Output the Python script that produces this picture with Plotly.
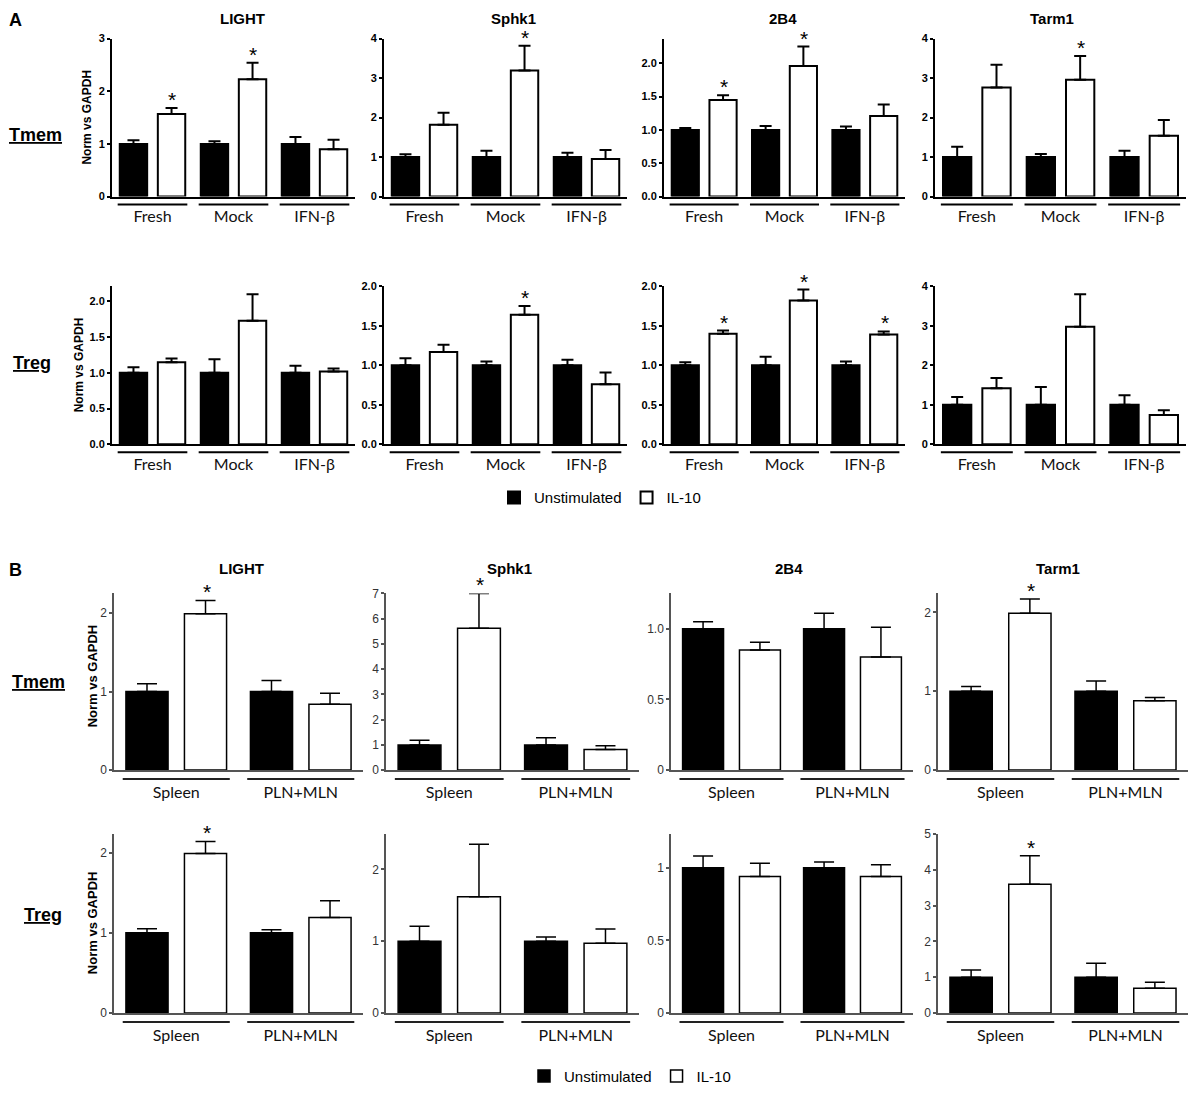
"""
IL-10 induced genes in Tmem / Treg, qPCR bar charts (panels A and B)
"""
import plotly.graph_objects as go

W, H = 1192, 1095

# ---------------- data ----------------
genes = ["LIGHT", "Sphk1", "2B4", "Tarm1"]
groups_a = ["Fresh", "Mock", "IFN-β"]
groups_b = ["Spleen", "PLN+MLN"]

# unstimulated samples are normalised to 1
ctrl_a = [1.0, 1.0, 1.0]
ctrl_b = [1.0, 1.0]

# panel A, Tmem  (one list per gene: LIGHT, Sphk1, 2B4, Tarm1)
a_tmem_ctrl_err = [[0.07, 0.05, 0.13], [0.07, 0.16, 0.11], [0.03, 0.06, 0.05], [0.26, 0.08, 0.16]]
a_tmem_il10 = [[1.57, 2.23, 0.90], [1.82, 3.19, 0.95], [1.45, 1.96, 1.21], [2.76, 2.96, 1.54]]
a_tmem_il10_err = [[0.11, 0.31, 0.18], [0.30, 0.63, 0.23], [0.07, 0.29, 0.17], [0.58, 0.60, 0.40]]
a_tmem_star = [[1, 1, 0], [0, 1, 0], [1, 1, 0], [0, 1, 0]]

# panel A, Treg
a_treg_ctrl_err = [[0.08, 0.19, 0.10], [0.09, 0.05, 0.07], [0.04, 0.11, 0.05], [0.20, 0.45, 0.24]]
a_treg_il10 = [[1.15, 1.73, 1.02], [1.17, 1.64, 0.76], [1.40, 1.82, 1.39], [1.42, 2.98, 0.74]]
a_treg_il10_err = [[0.05, 0.37, 0.04], [0.09, 0.11, 0.15], [0.04, 0.14, 0.04], [0.26, 0.82, 0.12]]
a_treg_star = [[0, 0, 0], [0, 1, 0], [1, 1, 1], [0, 0, 0]]

# panel B, Tmem
b_tmem_ctrl_err = [[0.10, 0.14], [0.18, 0.28], [0.05, 0.11], [0.06, 0.13]]
b_tmem_il10 = [[1.99, 0.84], [5.62, 0.82], [0.85, 0.80], [1.99, 0.88]]
b_tmem_il10_err = [[0.17, 0.14], [1.38, 0.15], [0.055, 0.21], [0.18, 0.04]]
b_tmem_star = [[1, 0], [1, 0], [0, 0], [1, 0]]

# panel B, Treg
b_treg_ctrl_err = [[0.05, 0.04], [0.21, 0.06], [0.08, 0.04], [0.20, 0.39]]
b_treg_il10 = [[1.99, 1.19], [1.62, 0.97], [0.94, 0.94], [3.60, 0.69]]
b_treg_il10_err = [[0.15, 0.21], [0.73, 0.20], [0.09, 0.08], [0.80, 0.17]]
b_treg_star = [[1, 0], [0, 0], [0, 0], [1, 0]]

rows = [
    (groups_a, ctrl_a, a_tmem_ctrl_err, a_tmem_il10, a_tmem_il10_err, a_tmem_star),
    (groups_a, ctrl_a, a_treg_ctrl_err, a_treg_il10, a_treg_il10_err, a_treg_star),
    (groups_b, ctrl_b, b_tmem_ctrl_err, b_tmem_il10, b_tmem_il10_err, b_tmem_star),
    (groups_b, ctrl_b, b_treg_ctrl_err, b_treg_il10, b_treg_il10_err, b_treg_star),
]

# ---------------- layout geometry (pixels) ----------------
row_y = [(32, 192), (283, 443), (594, 773), (838, 1019)]
cols_a = [(112, 355), (384, 627), (664, 905), (935, 1186)]
cols_b = [(114, 363), (386, 639), (671, 913), (938, 1188)]

y_max = [[3, 4, 2.37, 4], [2.21, 2, 2, 4], [2.25, 7, 1.25, 2.24], [2.23, 2.49, 1.23, 5]]
y_dtick = [[1, 1, 0.5, 1], [0.5, 0.5, 0.5, 1], [1, 1, None, 1], [1, 1, None, 1]]
y_fmt = [["", "", ".1f", ""], [".1f", ".1f", ".1f", ""], ["", "", "", ""], ["", "", "", ""]]
b2b4_ticktext = [["0", "0.5", "1.0"], ["0", "0.5", "1"]]

FONT = "Arial, Liberation Sans, sans-serif"
LABFONT = "Lato, Open Sans, sans-serif"

fig = go.Figure()
layout = {}
shapes = []
annos = []

n = 0
for r, (groups, ctrl, ctrl_err, il10, il10_err, star) in enumerate(rows):
    panel_a = r < 2
    cols = cols_a if panel_a else cols_b
    yt, yb = row_y[r]
    lw = 2 if panel_a else 1.5
    axc = "black" if panel_a else "#555"
    cap = 6 if panel_a else 10
    leg = "legend" if panel_a else "legend2"
    for c in range(4):
        n += 1
        xa = "x" if n == 1 else f"x{n}"
        ya = "y" if n == 1 else f"y{n}"
        x0, x1 = cols[c]
        show = c == 0 and r in (0, 2)

        fig.add_trace(go.Bar(
            x=groups, y=ctrl, name="Unstimulated", xaxis=xa, yaxis=ya,
            marker=dict(color="black", line=dict(color="black", width=lw)),
            error_y=dict(type="data", symmetric=False, array=ctrl_err[c],
                         arrayminus=[0] * len(groups), color="black",
                         thickness=lw, width=cap),
            legend=leg, showlegend=show,
        ))
        fig.add_trace(go.Bar(
            x=groups, y=il10[c], name="IL-10", xaxis=xa, yaxis=ya,
            marker=dict(color="white", line=dict(color="black", width=lw)),
            error_y=dict(type="data", symmetric=False, array=il10_err[c],
                         arrayminus=[0] * len(groups), color="black",
                         thickness=lw, width=cap),
            legend=leg, showlegend=show,
        ))

        # significance stars above the IL-10 error bars
        slot = (x1 - x0) / len(groups)
        for i, g in enumerate(groups):
            if star[c][i]:
                annos.append(dict(
                    x=g, y=il10[c][i] + il10_err[c][i], xref=xa, yref=ya,
                    text="*", showarrow=False, yanchor="bottom", yshift=-5,
                    xshift=slot * 0.245, font=dict(family=FONT, size=21, color="black"),
                ))
            # group underline
            shapes.append(dict(
                type="line", xref=xa, yref=f"{ya} domain", x0=i - 0.43, x1=i + 0.43,
                y0=-0.05, y1=-0.05, line=dict(color="black" if panel_a else "#222", width=2),
            ))

        layout[f"xaxis{'' if n == 1 else n}"] = dict(
            domain=[x0 / W, x1 / W], anchor=ya, range=[-0.5, len(groups) - 0.5],
            showline=True, linecolor=axc, linewidth=lw, ticks="", showgrid=False,
            zeroline=False, ticklabelstandoff=4 if panel_a else 7,
            tickfont=dict(family=LABFONT, size=16, color="#111"),
        )
        ydict = dict(
            domain=[1 - yb / H, 1 - yt / H], anchor=xa, range=[0, y_max[r][c]],
            showline=True, linecolor=axc, linewidth=lw, ticks="outside", ticklen=3,
            tickwidth=lw, tickcolor=axc, showgrid=False, zeroline=False,
        )
        if panel_a:
            ydict["tickfont"] = dict(family=FONT, size=11, color="black", weight="bold")
        else:
            ydict["tickfont"] = dict(family=FONT, size=12, color="#333")
        if y_dtick[r][c] is None:
            ydict["tickvals"] = [0, 0.5, 1]
            ydict["ticktext"] = b2b4_ticktext[r - 2]
        else:
            ydict["dtick"] = y_dtick[r][c]
            ydict["tick0"] = 0
            if y_fmt[r][c]:
                ydict["tickformat"] = y_fmt[r][c]
        layout[f"yaxis{'' if n == 1 else n}"] = ydict


def paper_text(text, px, py, size, angle=0, anchor="center"):
    annos.append(dict(x=px / W, y=1 - py / H, xref="paper", yref="paper",
                      xanchor=anchor, yanchor="middle", text=text, showarrow=False,
                      textangle=angle, font=dict(family=FONT, size=size, color="black")))


# gene titles
title_x = [[242, 513, 783, 1052], [241, 509, 789, 1058]]
for k, ty in enumerate([12, 569]):
    for c, g in enumerate(genes):
        paper_text(f"<b>{g}</b>", title_x[k][c], ty, 15)

# panel letters
paper_text("<b>A</b>", 7, 13, 18, anchor="left")
paper_text("<b>B</b>", 7, 570, 18, anchor="left")

# row labels
for t, lx, ly in [("Tmem", 35, 130), ("Treg", 32, 361), ("Tmem", 38, 684), ("Treg", 43, 920)]:
    paper_text(f"<b><u>{t}</u></b>", lx, ly, 18)

# y axis titles
for lx, ly, fs in [(87, 112, 12), (79, 363, 12), (92, 678, 13), (92, 928, 13)]:
    paper_text("<b>Norm vs GAPDH</b>", lx, ly, fs, angle=-90)

fig.update_layout(**layout)
fig.update_layout(
    width=W, height=H, margin=dict(l=0, r=0, t=0, b=0),
    paper_bgcolor="white", plot_bgcolor="white",
    barmode="group", bargap=0.06, bargroupgap=0.28,
    shapes=shapes, annotations=annos,
    legend=dict(orientation="h", x=600 / W, xanchor="center", y=1 - 497 / H,
                yanchor="middle", font=dict(family=FONT, size=15, color="black")),
    legend2=dict(orientation="h", x=630 / W, xanchor="center", y=1 - 1083 / H,
                 yanchor="middle", font=dict(family=FONT, size=15, color="black")),
)

fig.write_html("out.html", config={"displayModeBar": False},
               post_script="document.body.style.margin='0';")
